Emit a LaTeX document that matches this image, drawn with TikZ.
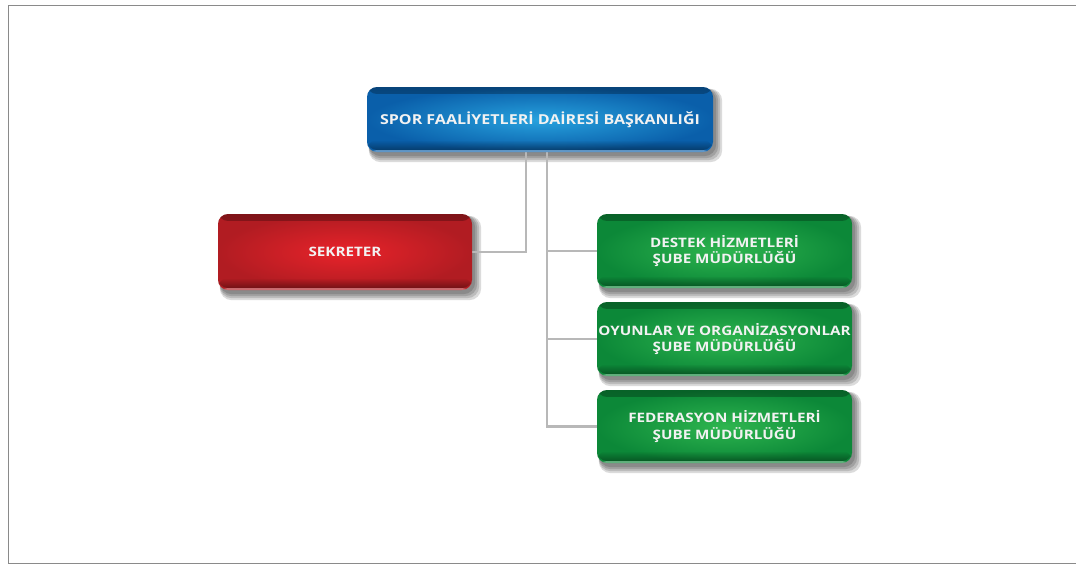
\documentclass[tikz,border=0pt]{standalone}
\usepackage{fontspec}
\setmainfont{Open Sans}
\newfontfamily\boxfont{Open Sans}[FakeStretch=1.17]
\usetikzlibrary{backgrounds,fadings}

\definecolor{blueIn}{HTML}{27A2DE}
\definecolor{blueOut}{HTML}{0A5FAA}
\definecolor{redIn}{HTML}{E8232A}
\definecolor{redOut}{HTML}{B11C22}
\definecolor{greenIn}{HTML}{2EB54F}
\definecolor{greenOut}{HTML}{0C8838}
\definecolor{linkgray}{HTML}{B8B8B8}
\definecolor{framegray}{HTML}{8A8A8A}
\definecolor{labelwhite}{HTML}{F2F2F2}

\pgfdeclarelayer{paper}
\pgfsetlayers{paper,background,main}

\tikzfading[name=fadedown, top color=transparent!0, bottom color=transparent!100]
\tikzfading[name=fadeup, top color=transparent!100, bottom color=transparent!0]

\tikzset{
  orgbox/.style={rounded corners=10pt, align=center, text=labelwhite,
    font=\boxfont\fontsize{13}{16.5}\selectfont\bfseries, inner sep=0pt,
    path picture={
      \fill[black,opacity=0.28,path fading=fadedown]
        (path picture bounding box.north west) rectangle
        ([yshift=-7pt]path picture bounding box.north east);
      \fill[black,opacity=0.35,path fading=fadeup]
        ([yshift=12pt]path picture bounding box.south west) rectangle
        ([yshift=2pt]path picture bounding box.south east);
      \fill[white,opacity=0.35]
        ([yshift=2pt]path picture bounding box.south west) rectangle
        (path picture bounding box.south east);
    }},
  bluebox/.style={orgbox, inner color=blueIn, outer color=blueOut,
    font=\boxfont\fontsize{13.7}{16.5}\selectfont\bfseries},
  redbox/.style={orgbox, inner color=redIn, outer color=redOut},
  greenbox/.style={orgbox, inner color=greenIn, outer color=greenOut},
  link/.style={draw=linkgray, line width=2.6pt},
}

% soft drop shadow below and to the right of a node
\newcommand\softshadow[1]{%
  \foreach \s in {2,4,6,8}{%
    \fill[black,opacity=0.14,rounded corners=12pt]
      ([shift={(2,2)}]#1.north west) rectangle ([shift={(1+\s,2+\s)}]#1.south east);
  }%
}

\begin{document}
\begin{tikzpicture}[x=1pt,y=-1pt]
  \useasboundingbox (0,0) rectangle (1076,566);
  \begin{pgfonlayer}{paper}
    \fill[white] (0,0) rectangle (1076,566);
    \draw[framegray, line width=1.5pt] (8.5,5.5) rectangle (1085,563.5);
  \end{pgfonlayer}

  % units
  \node[bluebox, minimum width=346pt, minimum height=65pt] (head) at (540,119.5)
    {\raisebox{-2pt}{SPOR FAALİYETLERİ DAİRESİ BAŞKANLIĞI}};
  \node[redbox, minimum width=254pt, minimum height=76pt] (sek) at (345,252)
    {SEKRETER};
  \node[greenbox, minimum width=255pt, minimum height=74pt] (destek) at (724.5,251)
    {DESTEK HİZMETLERİ\\ŞUBE MÜDÜRLÜĞÜ};
  \node[greenbox, minimum width=255pt, minimum height=74pt] (oyun) at (724.5,339)
    {OYUNLAR VE ORGANİZASYONLAR\\ŞUBE MÜDÜRLÜĞÜ};
  \node[greenbox, minimum width=255pt, minimum height=73pt] (fed) at (724.5,426.5)
    {FEDERASYON HİZMETLERİ\\ŞUBE MÜDÜRLÜĞÜ};

  \begin{pgfonlayer}{background}
    \foreach \n in {head,sek,destek,oyun,fed}{\softshadow{\n}}
    % connectors
    \draw[link] ([xshift=-14pt]head.south) |- (sek.east);
    \coordinate (trunk) at ([xshift=7pt]head.south);
    \draw[link] (trunk) |- (fed.west);
    \draw[link] (trunk |- destek.west) -- (destek.west);
    \draw[link] (trunk |- oyun.west) -- (oyun.west);
  \end{pgfonlayer}
\end{tikzpicture}
\end{document}
